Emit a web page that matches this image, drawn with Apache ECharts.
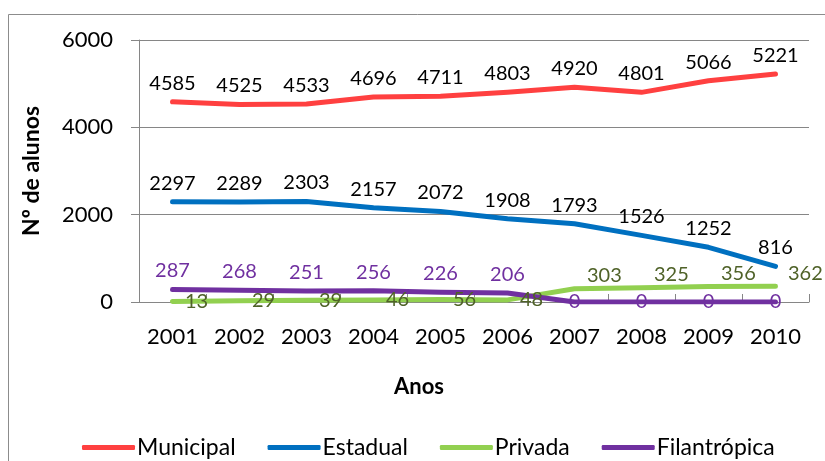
<!DOCTYPE html>
<html>
<head>
<meta charset="utf-8">
<script src="https://cdn.jsdelivr.net/npm/echarts@6/dist/echarts.min.js"></script>
<style>
  html, body { margin: 0; padding: 0; background: #fff; }
  #chart { width: 825px; height: 461px; }
</style>
</head>
<body>
<div id="chart"></div>
<script>
// dados
const anos = ['2001', '2002', '2003', '2004', '2005', '2006', '2007', '2008', '2009', '2010']
const municipal = [4585, 4525, 4533, 4696, 4711, 4803, 4920, 4801, 5066, 5221]
const estadual = [2297, 2289, 2303, 2157, 2072, 1908, 1793, 1526, 1252, 816]
const privada = [13, 29, 39, 46, 56, 48, 303, 325, 356, 362]
const filantropica = [287, 268, 251, 256, 226, 206, 0, 0, 0, 0]
const yTicks = { min: 0, max: 6000, interval: 2000 }

const FONT = 'Lato'
const chart = echarts.init(document.getElementById('chart'))

function lineSeries(name, data, color, labelColor, labelPos) {
  return {
    name,
    type: 'line',
    data,
    symbol: 'circle',
    symbolSize: 1,
    showSymbol: true,
    itemStyle: { color },
    lineStyle: { color, width: 5, cap: 'round', join: 'round' },
    label: {
      show: true,
      position: labelPos,
      distance: labelPos === 'right' ? 12 : 8,
      color: labelColor,
      fontFamily: FONT,
      fontSize: 20
    },
    emphasis: { disabled: true },
    z: 3
  }
}

// rótulos da Privada acima da linha quando ela sobe; zeros da Filantrópica sobre a linha
const privData = privada.map(v => v > 100 ? { value: v, label: { offset: [0, -13] } } : v)
const filData = filantropica.map(v => v === 0 ? { value: v, label: { position: 'inside' } } : v)

const option = {
  animation: false,
  grid: { left: 139, right: 16, top: 40, bottom: 159 },
  legend: {
    left: 77,
    top: 431,
    itemWidth: 53,
    itemHeight: 5,
    itemGap: 32,
    icon: 'roundRect',
    textStyle: { fontFamily: FONT, fontSize: 23, color: '#000', padding: [0, 0, 0, -3] },
    data: ['Municipal', 'Estadual', 'Privada', 'Filantrópica']
  },
  xAxis: {
    type: 'category',
    data: anos,
    boundaryGap: true,
    axisLine: { lineStyle: { color: '#868686', width: 1 } },
    axisTick: { show: true, inside: true, length: 8, lineStyle: { color: '#868686' } },
    axisLabel: { color: '#000', fontFamily: FONT, fontSize: 22, margin: 24 }
  },
  yAxis: {
    type: 'value',
    min: yTicks.min,
    max: yTicks.max,
    interval: yTicks.interval,
    name: 'Nº de alunos',
    nameLocation: 'middle',
    nameGap: 96,
    nameTextStyle: { fontFamily: FONT, fontSize: 23, fontWeight: 'bold', color: '#000' },
    axisLine: { show: true, lineStyle: { color: '#868686', width: 1 } },
    axisTick: { show: true, length: 8, lineStyle: { color: '#868686' } },
    axisLabel: { color: '#000', fontFamily: FONT, fontSize: 22, margin: 26, formatter: v => String(v) },
    splitLine: { lineStyle: { color: '#868686', width: 1 } }
  },
  graphic: [
    {
      type: 'rect',
      shape: { x: 8.5, y: 14.5, width: 840, height: 470 },
      style: { fill: 'none', stroke: '#8c8c8c', lineWidth: 1 },
      silent: true
    },
    {
      type: 'text',
      left: 394,
      top: 376,
      style: { text: 'Anos', fontFamily: FONT, fontSize: 22, fontWeight: 'bold', fill: '#000' }
    }
  ],
  series: [
    lineSeries('Municipal', municipal, '#ff4040', '#000', 'top'),
    lineSeries('Estadual', estadual, '#0070c0', '#000', 'top'),
    lineSeries('Privada', privData, '#92d050', '#4f6228', 'right'),
    lineSeries('Filantrópica', filData, '#7030a0', '#7030a0', 'top')
  ]
}

chart.setOption(option)
</script>
</body>
</html>
